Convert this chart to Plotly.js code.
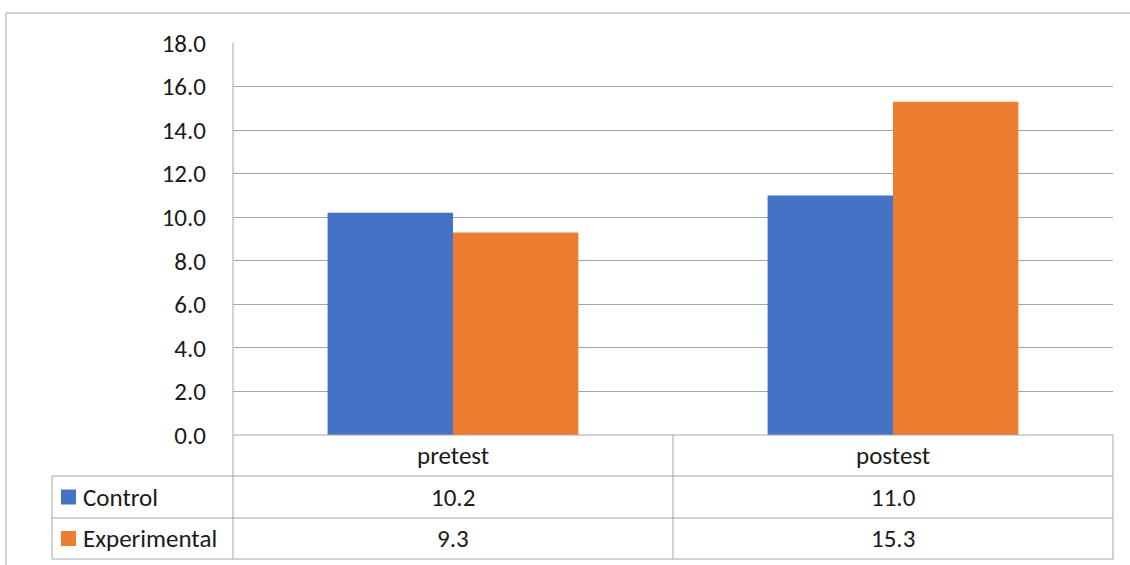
<!DOCTYPE html>
<html>
<head>
<meta charset="utf-8">
<script src="https://cdn.plot.ly/plotly-3.0.1.min.js"></script>
<style>
html,body{margin:0;padding:0;background:#fff;}
#chart{width:1130px;height:565px;}
</style>
</head>
<body>
<div id="chart"></div>
<script>
const categories = ["pretest", "postest"];
const seriesNames = ["Control", "Experimental"];
const controlValues = [10.2, 11.0];
const experimentalValues = [9.3, 15.3];
const seriesColors = ["#4472C4", "#ED7D31"];
const yTickVals = [0, 2, 4, 6, 8, 10, 12, 14, 16, 18];

const W = 1130, H = 565;
const L = 233, R = 1113, T = 43, B = 435;
const FONT = "Carlito, Calibri, 'Open Sans', sans-serif";
const FS = 25;
const TXT = "#1a1a1a";
const GRID = "#a6a6a6";

// pixel -> paper helpers
const px = x => (x - L) / (R - L);
const py = y => (B - y) / (B - T);

const seriesValues = [controlValues, experimentalValues];
const traces = seriesNames.map((name, i) => ({
  type: "bar",
  name: name,
  x: categories,
  y: seriesValues[i],
  marker: {color: seriesColors[i], line: {width: 0}},
  hoverinfo: "x+y+name"
}));

const shapes = [];
const line = (x0, y0, x1, y1, color) => shapes.push({
  type: "line", xref: "paper", yref: "paper",
  x0: px(x0), y0: py(y0), x1: px(x1), y1: py(y1),
  line: {color: color || GRID, width: 1}, layer: "above"
});

// outer chart frame (top + left visible)
line(6, 13, 1130, 13, "#a6a6a6");
line(6, 13, 6, 565, "#a6a6a6");

// data table
const rowY = [435, 476, 518, 559];
line(233, 43, 233, 559);   // left edge of plot / table
line(233, 435, 1113, 435); // axis line
for (let r = 1; r < rowY.length; r++) line(52, rowY[r], 1113, rowY[r]);
line(52, 476, 52, 559);
line(673, 435, 673, 559);
line(1113, 435, 1113, 559);

const annotations = [];
// category header row
categories.forEach((c, ci) => annotations.push({
  xref: "x", yref: "paper", x: ci, y: py((rowY[0] + rowY[1]) / 2),
  text: c, showarrow: false, font: {family: FONT, size: FS, color: TXT},
  xanchor: "center", yanchor: "middle"
}));
// value rows
seriesNames.forEach((s, si) => {
  const yMid = py((rowY[si + 1] + rowY[si + 2]) / 2);
  // legend key
  shapes.push({
    type: "rect", xref: "paper", yref: "paper",
    x0: px(61), x1: px(76), y0: yMid - 7.5 / (B - T), y1: yMid + 7.5 / (B - T),
    fillcolor: seriesColors[si], line: {width: 0}
  });
  annotations.push({
    xref: "paper", yref: "paper", x: px(81), y: yMid,
    text: s, showarrow: false, font: {family: FONT, size: FS, color: TXT},
    xanchor: "left", yanchor: "middle"
  });
  categories.forEach((c, ci) => annotations.push({
    xref: "x", yref: "paper", x: ci, y: yMid,
    text: seriesValues[si][ci].toFixed(1), showarrow: false,
    font: {family: FONT, size: FS, color: TXT},
    xanchor: "center", yanchor: "middle"
  }));
});

const layout = {
  width: W, height: H,
  margin: {l: L, r: W - R, t: T, b: H - B, pad: 0},
  paper_bgcolor: "#ffffff",
  plot_bgcolor: "#ffffff",
  showlegend: false,
  barmode: "group",
  bargap: 0.43,
  bargroupgap: 0,
  font: {family: FONT, size: FS, color: TXT},
  xaxis: {
    type: "category",
    range: [-0.5, 1.5],
    showticklabels: false,
    showgrid: false,
    zeroline: false,
    showline: false,
    ticks: ""
  },
  yaxis: {
    range: [0, 18],
    tickvals: yTickVals,
    tickformat: ".1f",
    showgrid: true,
    gridcolor: GRID,
    gridwidth: 1,
    zeroline: false,
    showline: false,
    ticks: "",
    ticklabelstandoff: 26,
    tickfont: {family: FONT, size: FS, color: TXT}
  },
  shapes: shapes,
  annotations: annotations
};

Plotly.newPlot("chart", traces, layout, {displayModeBar: false, staticPlot: true});
</script>
</body>
</html>
